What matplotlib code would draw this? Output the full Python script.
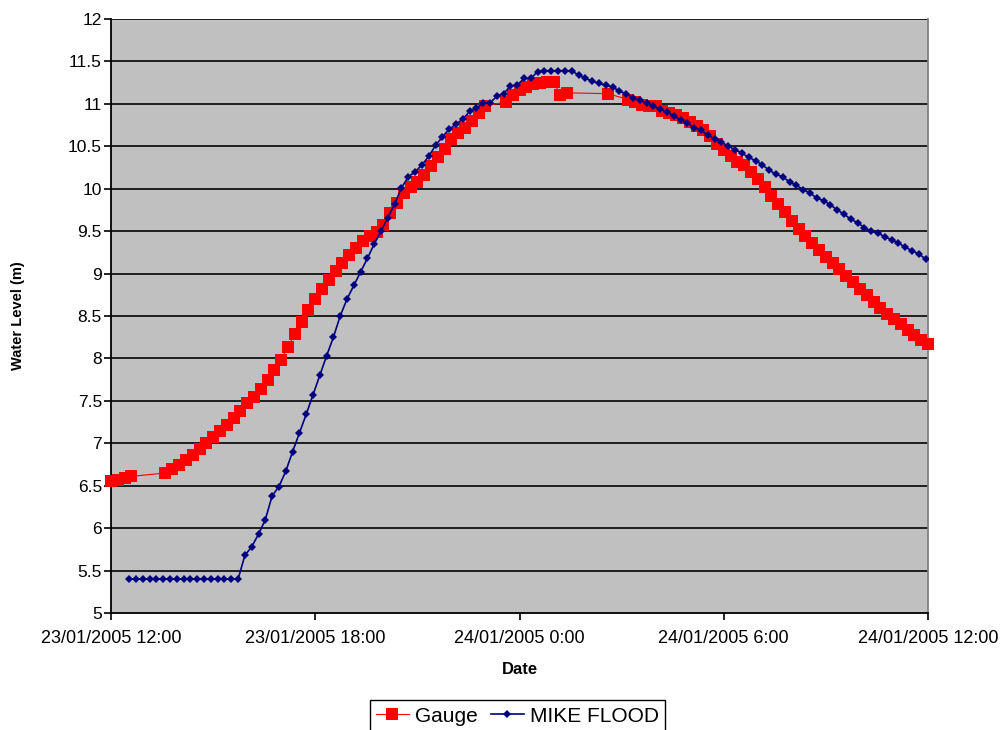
import matplotlib
matplotlib.use("Agg")
import matplotlib.pyplot as plt
import numpy as np
import pandas as pd

plt.rcParams['font.family'] = ['Liberation Sans', 'DejaVu Sans']

# ---------------- data ----------------
gauge_start = "2005-01-23 12:00"
mike_start = "2005-01-23 12:32"
interval = "12min"

gauge_level = [
    6.56, 6.57, 6.59, 6.61, None, None, None, None,
    6.65, 6.70, 6.75, 6.80, 6.86, 6.93, 7.00, 7.07, 7.15, 7.22,
    7.30, 7.38, 7.47, 7.55, 7.64, 7.74, 7.86, 7.98, 8.14, 8.29,
    8.43, 8.57, 8.70, 8.82, 8.93, 9.03, 9.12, 9.22, 9.30, 9.38,
    9.44, 9.49, 9.57, 9.71, 9.83, 9.95, 10.02, 10.08, 10.16, 10.27,
    10.37, 10.47, 10.58, 10.66, 10.72, 10.80, 10.89, 10.98, None, None,
    11.02, 11.10, 11.16, 11.20, 11.23, 11.25, 11.26, 11.26, 11.11, 11.13,
    None, None, None, None, None, 11.12, None, None,
    11.05, 11.02, 10.99, 10.98, 10.98, 10.92, 10.89, 10.87, 10.83, 10.79,
    10.74, 10.69, 10.62, 10.53, 10.46, 10.39, 10.32, 10.28, 10.20, 10.11,
    10.02, 9.92, 9.82, 9.72, 9.62, 9.52, 9.44, 9.36, 9.28, 9.20,
    9.13, 9.05, 8.97, 8.90, 8.82, 8.75, 8.67, 8.59, 8.52, 8.46,
    8.40, 8.34, 8.28, 8.22, 8.17,
]

mike_level = [
    5.40, 5.40, 5.40, 5.40, 5.40, 5.40, 5.40, 5.40, 5.40, 5.40,
    5.40, 5.40, 5.40, 5.40, 5.40, 5.40, 5.40,
    5.68, 5.78, 5.93, 6.10, 6.38, 6.49, 6.67, 6.90, 7.12, 7.34,
    7.57, 7.80, 8.03, 8.25, 8.50, 8.70, 8.86, 9.02, 9.18, 9.35,
    9.50, 9.66, 9.82, 10.01, 10.14, 10.20, 10.28, 10.38, 10.51, 10.61,
    10.70, 10.76, 10.82, 10.91, 10.95, 11.01, 11.01, 11.09, 11.12, 11.21,
    11.22, 11.30, 11.30, 11.38, 11.39, 11.39, 11.39, 11.39, 11.39, 11.34,
    11.30, 11.27, 11.24, 11.22, 11.20, 11.15, 11.12, 11.07, 11.04, 11.01,
    10.97, 10.94, 10.90, 10.86, 10.81, 10.77, 10.72, 10.69, 10.63, 10.59,
    10.55, 10.50, 10.46, 10.42, 10.37, 10.33, 10.28, 10.22, 10.17, 10.14,
    10.08, 10.04, 9.99, 9.95, 9.89, 9.86, 9.81, 9.75, 9.70, 9.64,
    9.60, 9.54, 9.50, 9.48, 9.43, 9.40, 9.36, 9.31, 9.27, 9.23,
    9.17,
]

xtick_times = ["2005-01-23 12:00", "2005-01-23 18:00", "2005-01-24 00:00",
               "2005-01-24 06:00", "2005-01-24 12:00"]
xtick_labels = ["23/01/2005 12:00", "23/01/2005 18:00", "24/01/2005 0:00",
                "24/01/2005 6:00", "24/01/2005 12:00"]
ytick_values = [5, 5.5, 6, 6.5, 7, 7.5, 8, 8.5, 9, 9.5, 10, 10.5, 11, 11.5, 12]
ytick_labels = ["5", "5.5", "6", "6.5", "7", "7.5", "8", "8.5", "9", "9.5",
                "10", "10.5", "11", "11.5", "12"]

series_names = ["Gauge", "MIKE FLOOD"]

# ---------------- build series ----------------
g_time = pd.date_range(gauge_start, periods=len(gauge_level), freq=interval)
g_val = pd.Series(gauge_level, index=g_time, dtype=float).dropna()
m_time = pd.date_range(mike_start, periods=len(mike_level), freq=interval)
m_val = pd.Series(mike_level, index=m_time, dtype=float)

# ---------------- figure ----------------
fig = plt.figure(figsize=(10.02, 7.30), dpi=100)
ax = fig.add_axes([111 / 1002, 1 - 613 / 730, (928 - 111) / 1002, (613 - 19) / 730])
ax.set_facecolor("#C0C0C0")

for yv in ytick_values[1:]:
    ax.axhline(yv, color="#111111", lw=1.3, zorder=1)

ax.plot(g_val.index, g_val.values, color="#FF0000", lw=0.8, marker="s",
        markersize=8.5, markeredgewidth=0, label=series_names[0], zorder=3,
        clip_on=False)
ax.plot(m_val.index, m_val.values, color="#000080", lw=1.2, marker="D",
        markersize=3.7, markeredgewidth=0, label=series_names[1], zorder=4)

ax.set_xlim(pd.Timestamp(xtick_times[0]), pd.Timestamp(xtick_times[-1]))
ax.set_ylim(5, 12)
ax.set_xticks([pd.Timestamp(t) for t in xtick_times])
ax.set_xticklabels(xtick_labels, fontsize=13)
ax.set_yticks(ytick_values)
ax.set_yticklabels(ytick_labels, fontsize=12.5)
ax.tick_params(axis="both", direction="out", length=5, width=1.2, color="black")
ax.tick_params(axis="y", pad=1.5)
ax.tick_params(axis="x", pad=7)

for side in ["left", "bottom"]:
    ax.spines[side].set_color("black")
    ax.spines[side].set_linewidth(1.3)
ax.spines["top"].set_visible(False)
ax.spines["right"].set_color("#808080")
ax.spines["right"].set_linewidth(1.3)

ax.set_xlabel("Date", fontsize=12, fontweight="bold")
ax.xaxis.set_label_coords(0.5, -(670 - 613) / 594, transform=ax.transAxes)
ax.xaxis.label.set_va("center")
ax.set_ylabel("Water Level (m)", fontsize=10.5, fontweight="bold")
ax.yaxis.set_label_coords(-(111 - 18) / 817, 0.5, transform=ax.transAxes)
ax.yaxis.label.set_va("center")

leg = fig.legend(loc="upper center", bbox_to_anchor=(517.5 / 1002, 1 - 690 / 730),
                 ncol=2, fontsize=15, frameon=True, fancybox=False,
                 edgecolor="black", framealpha=1, handlelength=1.6,
                 handletextpad=0.3, columnspacing=0.6, borderpad=0.3,
                 markerscale=1.0)
leg.get_frame().set_linewidth(1.0)

fig.savefig("out.png", dpi=100)
